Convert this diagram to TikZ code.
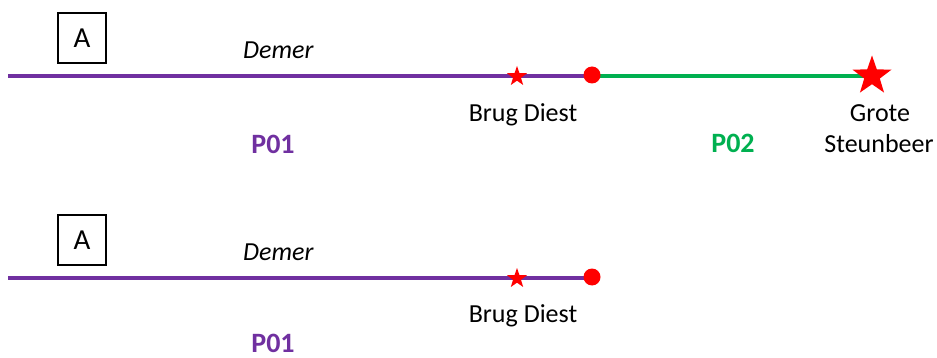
\documentclass[tikz,border=0pt]{standalone}
\usepackage{fontspec}
\setmainfont{Carlito}
\usetikzlibrary{shapes.geometric,backgrounds}
\definecolor{riverpurple}{HTML}{7030A0}
\definecolor{rivergreen}{HTML}{00B050}
\begin{document}
\begin{tikzpicture}[x=1pt,y=-1pt,
  lbl/.style={font=\fontsize{26}{30}\selectfont, anchor=base, inner sep=0pt},
  riv/.style={font=\fontsize{26}{30}\selectfont\itshape, anchor=base west, inner sep=0pt},
  part/.style={font=\fontsize{28}{32}\selectfont\bfseries, anchor=base, inner sep=0pt},
  tagbox/.style={draw, line width=1.3pt, minimum width=48pt, minimum height=50pt, inner sep=0pt, font=\fontsize{29}{32}\selectfont},
  reach/.style={line width=3.6pt},
  bridge/.style={star, star points=5, star point ratio=2.5, fill=red, inner sep=0pt, minimum size=21pt},
  gauge/.style={star, star points=5, star point ratio=2.5, fill=red, inner sep=0pt, minimum size=41pt},
  junction/.style={circle, fill=red, inner sep=0pt, minimum size=17pt}]
\useasboundingbox (0,0) rectangle (937,358);

% upper panel: Demer with P01 and P02
\node[tagbox] (boxA1) at (82,38) {A};
\node[riv] (demer1) at (243,59) {Demer};
\coordinate (west1) at (8,76);
\node[bridge] (star1) at (517,76.5) {};
\node[junction] (dot1) at (592,75) {};
\node[gauge] (star2) at (872,76) {};
\node[lbl] (brug1) at (523,121.5) {Brug Diest};
\node[lbl] (grote) at (880,121.5) {Grote};
\node[lbl] (steun) at (879,153) {Steunbeer};
\node[part, text=riverpurple] (p01a) at (273,154) {P01};
\node[part, text=rivergreen] (p02) at (733,153) {P02};

% lower panel: Demer with P01 only
\node[tagbox] (boxA2) at (82,240) {A};
\node[riv] (demer2) at (243,261) {Demer};
\coordinate (west2) at (8,278);
\node[bridge] (star3) at (517,278.5) {};
\node[junction] (dot2) at (592,277) {};
\node[lbl] (brug2) at (523,322) {Brug Diest};
\node[part, text=riverpurple] (p01b) at (273,352) {P01};

\begin{pgfonlayer}{background}
  \draw[reach, riverpurple] (west1) -- (west1 -| dot1);
  \draw[reach, rivergreen] (dot1.center |- west1) -- (star2.center |- west1);
  \draw[reach, riverpurple] (west2) -- (west2 -| dot2);
\end{pgfonlayer}
\end{tikzpicture}
\end{document}
